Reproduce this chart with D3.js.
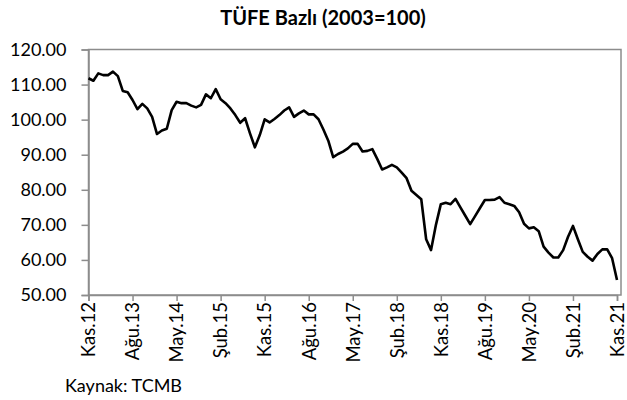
<!DOCTYPE html>
<html>
<head>
<meta charset="utf-8">
<script src="https://cdn.jsdelivr.net/npm/d3@7"></script>
<style>
  body { margin: 0; background: #fff; }
  svg text { font-family: Lato, "Open Sans", sans-serif; fill: #000; }
</style>
</head>
<body>
<div id="chart"></div>
<script>
// aylık reel efektif döviz kuru, TÜFE bazlı, Kas.12 - Kas.21
const startMonth = { year: 2012, month: 10 }; // Kasım 2012 (0 tabanlı ay)
const values = [
  111.8, 111.1, 113.2, 112.7, 112.7, 113.7, 112.4, 108.2, 107.8, 105.6,
  103.0, 104.5, 103.2, 100.8, 95.9, 96.9, 97.4, 102.7, 105.1, 104.7,
  104.7, 104.0, 103.5, 104.2, 107.2, 106.1, 108.7, 105.8, 104.7, 103.2,
  101.3, 99.1, 100.4, 96.1, 92.1, 95.6, 100.1, 99.2, 100.2, 101.3,
  102.6, 103.5, 100.8, 101.8, 102.6, 101.5, 101.5, 100.1, 97.2, 94.0,
  89.3, 90.2, 90.9, 91.8, 93.1, 93.1, 90.9, 91.1, 91.6, 88.8,
  85.8, 86.4, 87.1, 86.4, 84.9, 83.3, 79.7, 78.5, 77.3, 65.9,
  62.8, 70.0, 75.9, 76.3, 75.9, 77.4, 75.0, 72.6, 70.2, 72.5,
  74.8, 77.1, 77.1, 77.2, 77.9, 76.3, 75.9, 75.4, 73.6, 70.3,
  69.0, 69.3, 68.2, 63.8, 62.1, 60.7, 60.7, 62.8, 66.6, 69.7,
  65.9, 62.3, 60.9, 59.8, 61.7, 63.0, 63.0, 60.5, 54.3
];
const monthNames = ["Oca", "Şub", "Mar", "Nis", "May", "Haz", "Tem", "Ağu", "Eyl", "Eki", "Kas", "Ara"];
const tickIdx = [0, 9, 18, 27, 36, 45, 54, 63, 72, 81, 90, 99, 108];
const yTicks = [50, 60, 70, 80, 90, 100, 110, 120];

const title = "TÜFE Bazlı (2003=100)";
const source = "Kaynak: TCMB";

const width = 627, height = 400;
const margin = { top: 49.5, right: 6, bottom: 105, left: 88.5 };

const svg = d3.select("#chart").append("svg")
  .attr("width", width)
  .attr("height", height);

const x = d3.scaleLinear([0, values.length - 1], [margin.left, 617]);
const y = d3.scaleLinear([50, 120], [height - margin.bottom, margin.top]);

function label(i) {
  const m = startMonth.month + i;
  const yr = startMonth.year + Math.floor(m / 12);
  return monthNames[m % 12] + "." + String(yr).slice(2);
}

// çerçeve
svg.append("rect")
  .attr("x", margin.left)
  .attr("y", margin.top)
  .attr("width", 621 - margin.left)
  .attr("height", y(50) - margin.top)
  .attr("fill", "none")
  .attr("stroke", "#8c8c8c")
  .attr("stroke-width", 1.5);

// y ekseni
svg.append("g")
  .attr("transform", `translate(${margin.left},0)`)
  .call(d3.axisLeft(y).tickValues(yTicks).tickSize(7).tickPadding(15).tickFormat(d3.format(".2f")))
  .call(g => g.select(".domain").attr("stroke", "#8c8c8c").attr("stroke-width", 1.5))
  .call(g => g.selectAll(".tick line").attr("stroke", "#8c8c8c").attr("stroke-width", 1.5))
  .call(g => g.selectAll(".tick text").attr("font-size", 18).attr("font-family", "Lato").attr("fill", "#000"));

// x ekseni
svg.append("g")
  .attr("transform", `translate(0,${y(50)})`)
  .call(d3.axisBottom(x).tickValues(tickIdx).tickSize(6).tickFormat(label))
  .call(g => g.select(".domain").attr("stroke", "#8c8c8c").attr("stroke-width", 1.5))
  .call(g => g.selectAll(".tick line").attr("stroke", "#8c8c8c").attr("stroke-width", 1.5))
  .call(g => g.selectAll(".tick text")
    .attr("font-size", 18.5)
    .attr("font-family", "Lato")
    .attr("fill", "#000")
    .attr("text-anchor", "end")
    .attr("dy", "0.34em")
    .attr("transform", "translate(0,7) rotate(-90)")
    .attr("x", 0)
    .attr("y", 0));

// çizgi
const line = d3.line()
  .x((d, i) => x(i))
  .y(d => y(d));

svg.append("path")
  .datum(values)
  .attr("fill", "none")
  .attr("stroke", "#000")
  .attr("stroke-width", 2.6)
  .attr("stroke-linejoin", "round")
  .attr("d", line);

svg.append("text")
  .attr("x", 323)
  .attr("y", 25)
  .attr("text-anchor", "middle")
  .attr("font-size", 20)
  .attr("font-weight", "bold")
  .text(title);

svg.append("text")
  .attr("x", 65)
  .attr("y", 392)
  .attr("font-size", 18)
  .text(source);
</script>
</body>
</html>
